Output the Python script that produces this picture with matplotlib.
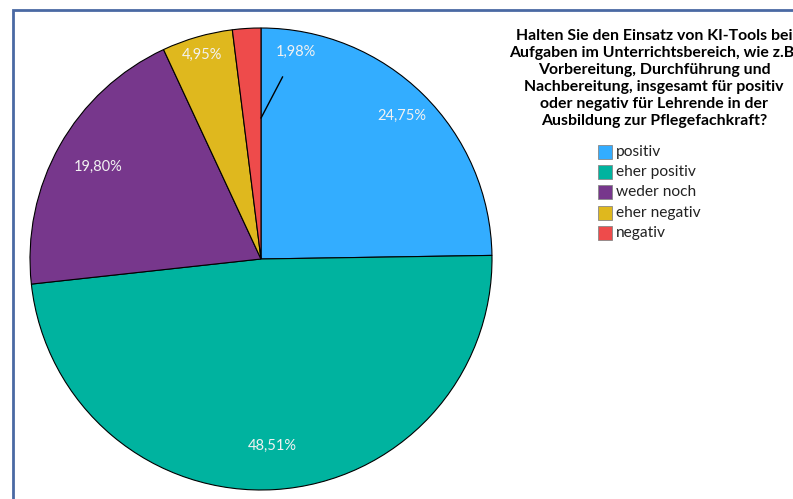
import numpy as np
import matplotlib
matplotlib.use('Agg')
import matplotlib.pyplot as plt
from matplotlib.patches import Rectangle

# data
categories = ['positiv', 'eher positiv', 'weder noch', 'eher negativ', 'negativ']
values = [24.75, 48.51, 19.80, 4.95, 1.98]
colors = ['#33adff', '#00b39f', '#77378c', '#dfb81e', '#ee4b4b']
title = ('Halten Sie den Einsatz von KI-Tools bei\n'
         'Aufgaben im Unterrichtsbereich, wie z.B.\n'
         'Vorbereitung, Durchführung und\n'
         'Nachbereitung, insgesamt für positiv\n'
         'oder negativ für Lehrende in der\n'
         'Ausbildung zur Pflegefachkraft?')

plt.rcParams['font.family'] = ['Lato', 'DejaVu Sans']

W, H = 793, 499
fig = plt.figure(figsize=(W/100, H/100), dpi=100)
ax = fig.add_axes([0, 0, 1, 1])

# frame
ax.add_patch(Rectangle((13, -20), 900, H-10+20, fill=False,
                       edgecolor='#4a69a3', lw=2))

cx, cy, R = 261, H-259, 231
wedges, _ = ax.pie(values, colors=colors, startangle=90, counterclock=False,
                   center=(cx, cy), radius=R, frame=True,
                   wedgeprops=dict(edgecolor='black', linewidth=0.8))
ax.set_xlim(0, W)
ax.set_ylim(0, H)
ax.set_aspect('equal')
ax.axis('off')

# percentage labels
dists = [0.87, 0.81, 0.81, 0.92, None]
for w, v, d in zip(wedges, values, dists):
    txt = ('%.2f%%' % v).replace('.', ',')
    if d is None:
        a1 = np.deg2rad(90)
        ax.annotate(txt, xy=(cx + 0.61*R*np.cos(a1), cy + 0.61*R*np.sin(a1)),
                    xytext=(cx + 0.86*R*np.cos(np.deg2rad(80)), cy + 0.90*R*np.sin(np.deg2rad(84))),
                    color='#f2f2f2', fontsize=10.5, ha='center', va='center',
                    arrowprops=dict(arrowstyle='-', color='black', lw=1,
                                    shrinkA=12, shrinkB=0))
        continue
    ang = np.deg2rad((w.theta1 + w.theta2) / 2)
    ax.text(cx + d*R*np.cos(ang), cy + d*R*np.sin(ang), txt,
            color='#f2f2f2', fontsize=10.5, ha='center', va='center')

# title + legend (title is cut at the right edge, as in the original)
ax.text(654, H-29, title, ha='center', va='top', fontsize=11.4,
        fontweight='bold', linespacing=1.28, color='black')
for i, (c, lab) in enumerate(zip(colors, categories)):
    y = H - 152 - i*20.2
    ax.add_patch(Rectangle((598, y-7), 14, 14, facecolor=c, edgecolor='#888888', lw=0.6))
    ax.text(616, y, lab, ha='left', va='center', fontsize=11.2, color='#222222')

fig.savefig('out.png', dpi=100)
